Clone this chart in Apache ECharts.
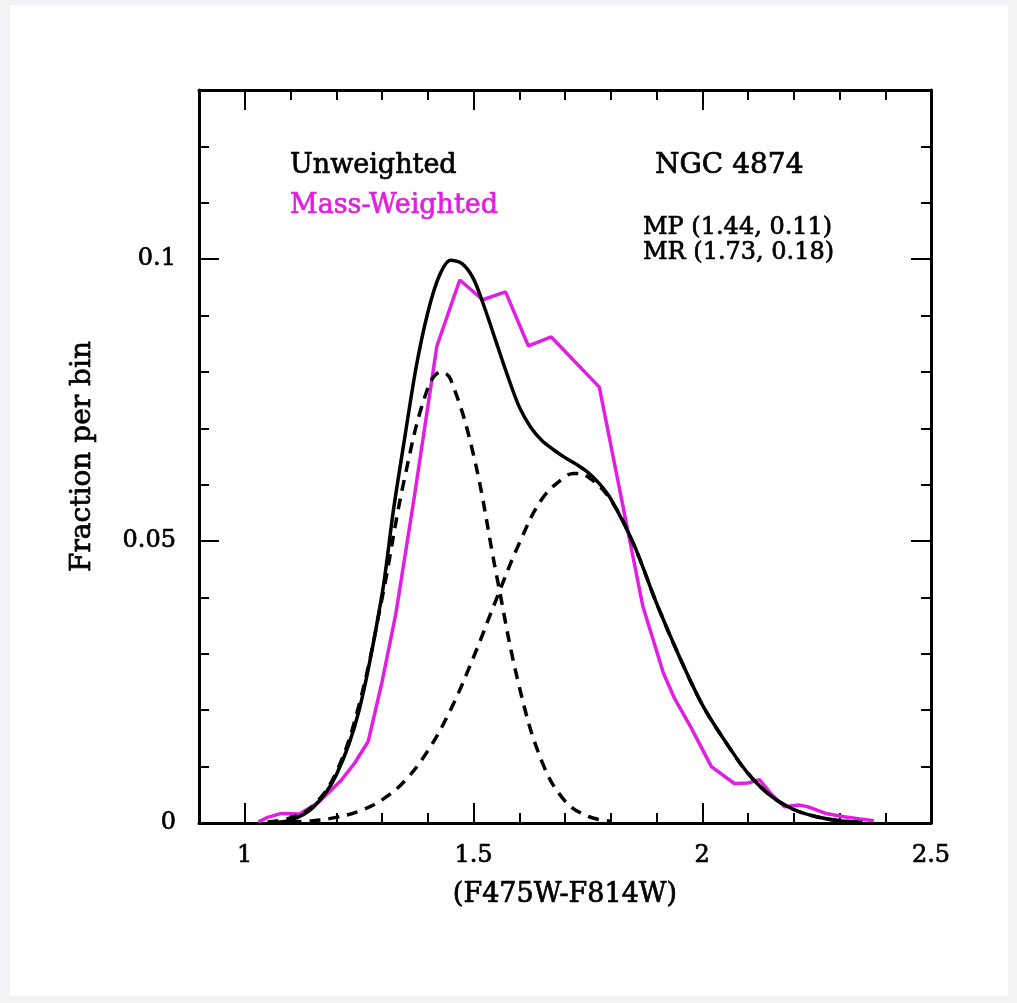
<!DOCTYPE html>
<html>
<head>
<meta charset="utf-8">
<script src="https://cdn.jsdelivr.net/npm/echarts@6/dist/echarts.min.js"></script>
<style>
  html, body { margin: 0; padding: 0; background: #ffffff; }
  #chart { width: 1017px; height: 1003px; }
</style>
</head>
<body>
<div id="chart"></div>
<script>
// Colour distribution of globular clusters, NGC 4874
const xMajorTicks = [1, 1.5, 2, 2.5];
const xTickLabels = ['1', '1.5', '2', '2.5'];
const yMajorTicks = [0, 0.05, 0.1];
const yTickLabels = ['0', '0.05', '0.1'];

// Unweighted smoothed distribution
const unweighted = [
  [1.05, 0], [1.10, 0.0005], [1.15, 0.0028], [1.20, 0.0085], [1.25, 0.020],
  [1.30, 0.0405], [1.325, 0.0555], [1.35, 0.0685], [1.375, 0.081], [1.40, 0.0905],
  [1.425, 0.097], [1.45, 0.0998], [1.475, 0.0992], [1.50, 0.0965], [1.525, 0.0912],
  [1.55, 0.0852], [1.575, 0.0792], [1.60, 0.0738], [1.625, 0.0702], [1.65, 0.0678],
  [1.675, 0.0662], [1.70, 0.0648], [1.725, 0.0636], [1.75, 0.0622], [1.775, 0.0602],
  [1.80, 0.0575], [1.85, 0.0495], [1.90, 0.039], [1.95, 0.0295], [2.00, 0.021],
  [2.05, 0.0145], [2.10, 0.0088], [2.15, 0.0048], [2.20, 0.0024], [2.25, 0.0011],
  [2.30, 0.0004], [2.35, 0.0001]
];

// Metal-poor component
const metalPoor = [
  [1.05, 0.0002], [1.10, 0.0009], [1.15, 0.0031], [1.20, 0.0090], [1.25, 0.0210],
  [1.30, 0.0398], [1.35, 0.0614], [1.40, 0.0771], [1.43, 0.0800], [1.45, 0.0787],
  [1.50, 0.0653], [1.55, 0.0441], [1.60, 0.0242], [1.65, 0.0108], [1.70, 0.0039],
  [1.75, 0.0012], [1.80, 0.0003]
];

// Metal-rich component
const metalRich = [
  [1.10, 0.0002], [1.15, 0.0004], [1.20, 0.0010], [1.25, 0.0021], [1.30, 0.0041],
  [1.35, 0.0075], [1.40, 0.0128], [1.45, 0.0201], [1.50, 0.0294], [1.55, 0.0397],
  [1.60, 0.0496], [1.65, 0.0575], [1.70, 0.0614], [1.72, 0.0620], [1.75, 0.0614],
  [1.80, 0.0573], [1.85, 0.0494], [1.90, 0.039], [1.95, 0.0295], [2.00, 0.021],
  [2.05, 0.0145], [2.10, 0.0088], [2.15, 0.0048], [2.20, 0.0024], [2.25, 0.0011],
  [2.30, 0.0004], [2.35, 0.0001]
];

// Mass-weighted distribution
const massWeighted = [
  [1.03, 0.0002], [1.05, 0.0010], [1.08, 0.0017], [1.12, 0.0016], [1.16, 0.0036],
  [1.21, 0.0075], [1.24, 0.0106], [1.27, 0.0145], [1.30, 0.0250], [1.33, 0.0370],
  [1.37, 0.0575], [1.42, 0.0846], [1.47, 0.0963], [1.52, 0.0928], [1.57, 0.0942],
  [1.62, 0.0846], [1.67, 0.0862], [1.775, 0.0773], [1.87, 0.0385], [1.915, 0.0266],
  [1.94, 0.0220], [1.975, 0.0170], [2.02, 0.0100], [2.07, 0.0070], [2.10, 0.0071],
  [2.125, 0.0077], [2.15, 0.0052], [2.18, 0.0029], [2.21, 0.0032], [2.23, 0.0029],
  [2.27, 0.0017], [2.31, 0.0011], [2.345, 0.0007], [2.375, 0.0004]
];

const FONT = "'DejaVu Serif', serif";
const INK = '#000000';
const MAGENTA = '#e21ee2';

const chart = echarts.init(document.getElementById('chart'));

function heavyText(color, size) {
  return { color: color, fontFamily: FONT, fontSize: size, textBorderColor: color, textBorderWidth: 0.7 };
}

function xAxisDef(position, major, withLabels) {
  return {
    type: 'value', position: position, min: 0.9, max: 2.5, interval: 0.1,
    axisLine: { show: !major, onZero: false, lineStyle: { color: INK, width: 3 } },
    axisTick: major
      ? { show: true, inside: true, length: 20, customValues: xMajorTicks, lineStyle: { color: INK, width: 2 } }
      : { show: true, inside: true, length: 10, lineStyle: { color: INK, width: 2 } },
    axisLabel: withLabels
      ? Object.assign({ show: true, customValues: xMajorTicks, margin: 21,
          formatter: v => xTickLabels[xMajorTicks.indexOf(+v.toFixed(2))] }, heavyText(INK, 24))
      : { show: false },
    splitLine: { show: false }
  };
}

function yAxisDef(position, major, withLabels) {
  return {
    type: 'value', position: position, min: 0, max: 0.13, interval: 0.01,
    axisLine: { show: !major, onZero: false, lineStyle: { color: INK, width: 3 } },
    axisTick: major
      ? { show: true, inside: true, length: 20, customValues: yMajorTicks, lineStyle: { color: INK, width: 2 } }
      : { show: true, inside: true, length: 10, lineStyle: { color: INK, width: 2 } },
    axisLabel: withLabels
      ? Object.assign({ show: true, customValues: yMajorTicks, margin: 23,
          formatter: v => yTickLabels[yMajorTicks.indexOf(+v.toFixed(3))] }, heavyText(INK, 24))
      : { show: false },
    splitLine: { show: false }
  };
}

const xAxes = [
  Object.assign(xAxisDef('bottom', false, true), {
    name: '(F475W-F814W)', nameLocation: 'middle', nameGap: 58,
    nameTextStyle: heavyText(INK, 27)
  }),
  xAxisDef('bottom', true, false),
  xAxisDef('top', false, false),
  xAxisDef('top', true, false)
];

const yAxes = [
  Object.assign(yAxisDef('left', false, true), {
    name: 'Fraction per bin', nameLocation: 'middle', nameGap: 102, nameRotate: 90,
    nameTextStyle: heavyText(INK, 28)
  }),
  yAxisDef('left', true, false),
  yAxisDef('right', false, false),
  yAxisDef('right', true, false)
];

function lineSeries(name, data, color, dashed, smooth, z) {
  return {
    name: name, type: 'line', data: data, xAxisIndex: 0, yAxisIndex: 0,
    showSymbol: false, symbol: 'none', smooth: smooth, z: z,
    lineStyle: { color: color, width: 3.5, type: dashed ? [11, 8] : 'solid' },
    emphasis: { disabled: true }, silent: true
  };
}

function annotation(text, x, y, size, color) {
  return {
    type: 'text', x: x, y: y, silent: true,
    style: { text: text, fill: color, stroke: color, lineWidth: 0.7,
             font: size + 'px ' + FONT, textVerticalAlign: 'middle' }
  };
}

chart.setOption({
  backgroundColor: '#ffffff',
  animation: false,
  grid: { left: 199, right: 86, top: 90, bottom: 180 },
  xAxis: xAxes,
  yAxis: yAxes,
  series: [
    lineSeries('Mass-Weighted', massWeighted, MAGENTA, false, false, 2),
    lineSeries('MP', metalPoor, INK, true, 0.4, 3),
    lineSeries('MR', metalRich, INK, true, 0.4, 3),
    lineSeries('Unweighted', unweighted, INK, false, 0.3, 4)
  ],
  graphic: [
    { type: 'rect', shape: { x: 0, y: 0, width: 1017, height: 5 }, style: { fill: '#f2f2f4' }, silent: true },
    { type: 'rect', shape: { x: 0, y: 996, width: 1017, height: 7 }, style: { fill: '#f2f2f4' }, silent: true },
    { type: 'rect', shape: { x: 0, y: 0, width: 10, height: 1003 }, style: { fill: '#f2f2f4' }, silent: true },
    { type: 'rect', shape: { x: 1008, y: 0, width: 9, height: 1003 }, style: { fill: '#f2f2f4' }, silent: true },
    annotation('Unweighted', 290, 166, 27, INK),
    annotation('Mass-Weighted', 290, 206, 27, MAGENTA),
    annotation('NGC 4874', 655, 166, 28, INK),
    annotation('MP (1.44, 0.11)', 643, 228, 24, INK),
    annotation('MR (1.73, 0.18)', 643, 253, 24, INK)
  ]
});
</script>
</body>
</html>
